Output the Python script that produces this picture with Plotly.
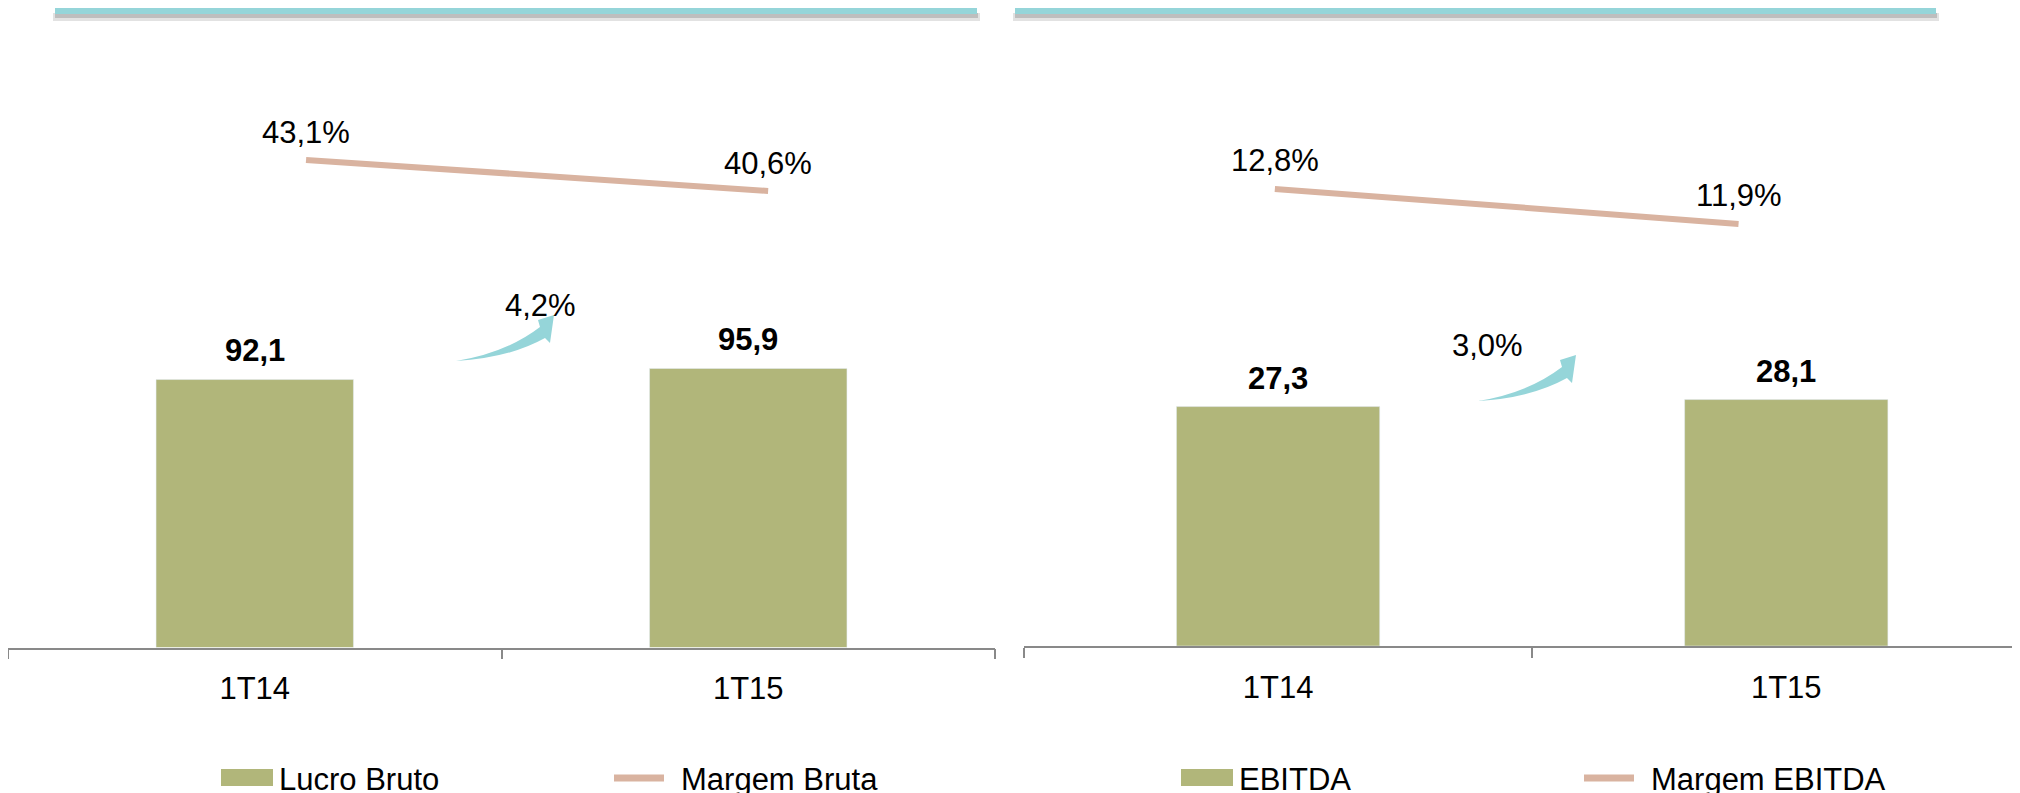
import plotly.graph_objects as go

# Data
periods = ['1T14', '1T15']
lucro_bruto = [92.1, 95.9]
margem_bruta = [43.1, 40.6]
ebitda = [27.3, 28.1]
margem_ebitda = [12.8, 11.9]
growth = [4.2, 3.0]  # Lucro Bruto, EBITDA

# the page body has an 8px margin, so the figure is a bit smaller than the window
OFF = 8
W, H = 2020 - OFF, 793 - OFF
FONT = 'Arial, Liberation Sans, sans-serif'
BAR_COLOR = '#b1b67a'
LINE_COLOR = '#d9b3a0'
TEAL = '#95d5d9'
AXIS_COLOR = '#898989'


def px(x):
    return (x - OFF) / W


def py(y):
    return 1 - (y - OFF) / H


def br(v, pct=False):
    s = f'{v:.1f}'.replace('.', ',')
    return s + '%' if pct else s


fig = go.Figure()

# Bars
fig.add_trace(go.Bar(x=periods, y=lucro_bruto, name='Lucro Bruto', width=0.4,
                     marker=dict(color=BAR_COLOR), xaxis='x', yaxis='y'))
fig.add_trace(go.Bar(x=periods, y=ebitda, name='EBITDA', width=0.4,
                     marker=dict(color=BAR_COLOR), xaxis='x2', yaxis='y2'))

# Margin lines
fig.add_trace(go.Scatter(x=periods, y=margem_bruta, name='Margem Bruta', mode='lines',
                         line=dict(color=LINE_COLOR, width=6), xaxis='x3', yaxis='y3'))
fig.add_trace(go.Scatter(x=periods, y=margem_ebitda, name='Margem EBITDA', mode='lines',
                         line=dict(color=LINE_COLOR, width=6), xaxis='x4', yaxis='y4'))

annotations = []
# value labels on bars
for p, v in zip(periods, lucro_bruto):
    annotations.append(dict(x=p, y=v, xref='x', yref='y', text='<b>' + br(v) + '</b>',
                            showarrow=False, yshift=29))
for p, v in zip(periods, ebitda):
    annotations.append(dict(x=p, y=v, xref='x2', yref='y2', text='<b>' + br(v) + '</b>',
                            showarrow=False, yshift=28))
# margin labels
for p, v in zip(periods, margem_bruta):
    annotations.append(dict(x=p, y=v, xref='x3', yref='y3', text=br(v, True),
                            showarrow=False, yshift=27))
for p, v in zip(periods, margem_ebitda):
    annotations.append(dict(x=p, y=v, xref='x4', yref='y4', text=br(v, True),
                            showarrow=False, yshift=28))

# growth labels + curved arrows
arrow_offsets = [(0, 0), (1022, 40)]
for g, (dx, dy) in zip(growth, arrow_offsets):
    annotations.append(dict(x=px(503 + dx), y=py(305 + dy), xref='paper', yref='paper',
                            text=br(g, True), showarrow=False))

shapes = []
arrow_pts = [('M', 456, 361), ('Q', 506, 353), ('', 540, 327), ('L', 538, 320),
             ('L', 554, 315), ('L', 550, 343), ('L', 545, 338), ('Q', 509, 358),
             ('', 456, 361)]
for dx, dy in arrow_offsets:
    path = ' '.join(f'{c} {px(x + dx):.5f},{py(y + dy):.5f}'.strip() for c, x, y in arrow_pts) + ' Z'
    shapes.append(dict(type='path', xref='paper', yref='paper', path=path,
                       fillcolor=TEAL, line=dict(width=0)))

# teal header bars with soft shadow
for x0, x1 in [(55, 977), (1015, 1936)]:
    shapes.append(dict(type='rect', xref='paper', yref='paper', x0=px(x0 - 2), x1=px(x1 + 3),
                       y0=py(21), y1=py(13), fillcolor='#e2e2e2', line=dict(width=0), layer='below'))
    shapes.append(dict(type='rect', xref='paper', yref='paper', x0=px(x0), x1=px(x1 + 1),
                       y0=py(18), y1=py(13), fillcolor='#bebebe', line=dict(width=0), layer='below'))
    shapes.append(dict(type='rect', xref='paper', yref='paper', x0=px(x0), x1=px(x1),
                       y0=py(14), y1=py(8), fillcolor=TEAL, line=dict(width=0)))

# manual legends
legend_items = [('box', 221, 'Lucro Bruto'), ('line', 611, 'Margem Bruta'),
                ('box', 1181, 'EBITDA'), ('line', 1581, 'Margem EBITDA')]
for kind, x0, label in legend_items:
    if kind == 'box':
        shapes.append(dict(type='rect', xref='paper', yref='paper', x0=px(x0), x1=px(x0 + 52),
                           y0=py(786), y1=py(769), fillcolor=BAR_COLOR, line=dict(width=0)))
        tx = x0 + 56
    else:
        shapes.append(dict(type='line', xref='paper', yref='paper', x0=px(x0 + 3), x1=px(x0 + 53),
                           y0=py(778), y1=py(778), line=dict(color=LINE_COLOR, width=7)))
        tx = x0 + 68
    annotations.append(dict(x=px(tx), y=py(779), xref='paper', yref='paper', text=label,
                            xanchor='left', yanchor='middle', showarrow=False))

cat_axis = dict(type='category', showgrid=False, zeroline=False, showline=True,
                linecolor=AXIS_COLOR, linewidth=1.5, ticks='outside', tickson='boundaries',
                ticklen=10, tickwidth=1.5, tickcolor=AXIS_COLOR, ticklabelstandoff=13,
                tickfont=dict(size=31, color='black'))
hidden = dict(visible=False, showgrid=False, zeroline=False)

fig.update_layout(
    width=W, height=H,
    margin=dict(l=0, r=0, t=0, b=0),
    paper_bgcolor='white', plot_bgcolor='white',
    font=dict(family=FONT, size=31, color='black'),
    showlegend=False,
    xaxis=dict(cat_axis, domain=[px(8), px(995)], range=[-0.5, 1.5], anchor='y'),
    yaxis=dict(hidden, domain=[py(647.5), py(8)], range=[0, 219.8], anchor='x'),
    xaxis2=dict(cat_axis, domain=[px(1024), 1], range=[-0.5, 1.46], anchor='y2'),
    yaxis2=dict(hidden, domain=[py(646), py(8)], range=[0, 72.75], anchor='x2'),
    xaxis3=dict(hidden, type='category', overlaying='x', range=[-0.645, 1.491]),
    yaxis3=dict(hidden, overlaying='y', range=[3.79, 55.35]),
    xaxis4=dict(hidden, type='category', overlaying='x2', range=[-0.541, 1.607]),
    yaxis4=dict(hidden, overlaying='y2', range=[1.05, 17.45]),
    annotations=annotations,
    shapes=shapes,
)

fig.write_html('out.html')
